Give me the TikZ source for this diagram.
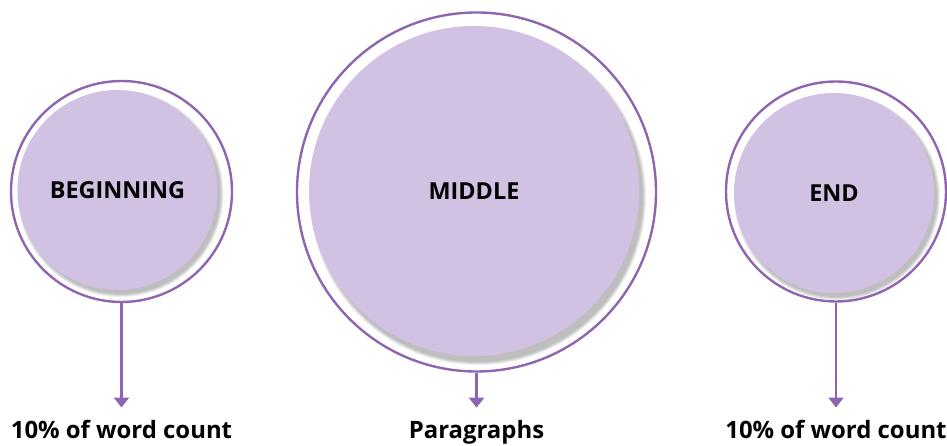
\documentclass[tikz,border=0pt]{standalone}
\usepackage{fontspec}
\setmainfont{Open Sans}
\usetikzlibrary{arrows.meta,positioning}
\definecolor{lavfill}{RGB}{209,194,227}
\definecolor{lavring}{RGB}{143,101,176}
\tikzset{
  lvring/.style={draw=lavring, line width=2.4pt, circle, inner sep=0pt},
  lvdisc/.style={fill=lavfill, circle, inner sep=0pt, font=\fontsize{23.5}{26}\selectfont\bfseries},
  lvshadow/.style={fill=black, fill opacity=0.07},
  lvarrow/.style={-{Triangle[width=15pt,length=10pt]}, draw=lavring, line width=2.4pt, shorten >=13pt},
  lvlabel/.style={font=\fontsize{24}{28}\selectfont\bfseries, anchor=base, inner sep=0pt},
}
\begin{document}
\begin{tikzpicture}[x=1bp, y=1bp]
  \useasboundingbox (0,0) rectangle (947,446);

  % centres of the three discs
  \coordinate (begC) at (117.5,256);
  \coordinate (midC) at (474,255);
  \coordinate (endC) at (834,253);

  % outer rings
  \node[lvring, minimum size=221bp] (begRing) at (121.5,254.5) {};
  \node[lvring, minimum size=359bp] (midRing) at (476.5,254) {};
  \node[lvring, minimum size=220bp] (endRing) at (836,254.5) {};

  % soft shadows
  \foreach \s in {0,2,4,6} {
    \fill[lvshadow] ([shift={(3,-4)}]begC) circle (100+\s/2);
    \fill[lvshadow] ([shift={(4,-6)}]midC) circle (165+\s/2);
    \fill[lvshadow] ([shift={(3,-4)}]endC) circle (100+\s/2);
  }

  % discs
  \node[lvdisc, minimum size=200bp] (beg) at (begC) {BEGINNING};
  \node[lvdisc, minimum size=330bp] (mid) at (midC) {MIDDLE};
  \node[lvdisc, minimum size=200bp] (end) at (endC) {END};

  % labels below
  \node[lvlabel] (begLabel) at (121.5,7) {10\% of word count};
  \node[lvlabel] (midLabel) at (476.5,7) {Paragraphs};
  \node[lvlabel] (endLabel) at (836,7) {10\% of word count};

  \draw[lvarrow] (begRing.south) -- (begLabel.north);
  \draw[lvarrow] (midRing.south) -- (midLabel.north);
  \draw[lvarrow] (endRing.south) -- (endLabel.north);
\end{tikzpicture}
\end{document}
